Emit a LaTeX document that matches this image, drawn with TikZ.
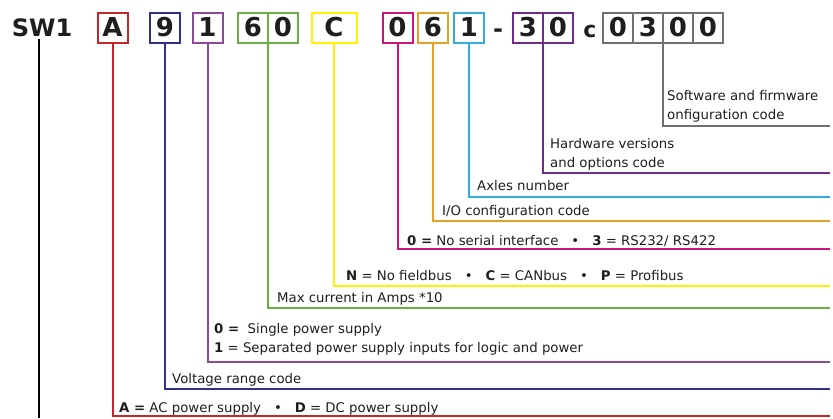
\documentclass[tikz,border=0pt]{standalone}
\usepackage{fontspec}
\setmainfont{DejaVu Sans}
\usetikzlibrary{positioning}
\definecolor{codeRed}{RGB}{193,39,45}
\definecolor{codeNavy}{RGB}{46,49,146}
\definecolor{codeViolet}{RGB}{138,75,155}
\definecolor{codeGreen}{RGB}{106,174,69}
\definecolor{codeYellow}{RGB}{255,241,0}
\definecolor{codeMagenta}{RGB}{204,20,123}
\definecolor{codeOrange}{RGB}{232,160,40}
\definecolor{codeBlue}{RGB}{52,170,226}
\definecolor{codePurple}{RGB}{112,44,140}
\definecolor{codeGray}{RGB}{112,112,112}
\definecolor{darkText}{RGB}{30,30,30}
\newcommand{\codesep}{\hspace{13pt}•\hspace{13pt}}
\tikzset{
    codecell/.style={
        rectangle,
        draw,
        line width=2pt,
        minimum width=30pt,
        minimum height=30pt,
        inner sep=0pt,
        outer sep=0pt,
        text=darkText,
        font=\fontsize{26}{26}\selectfont\bfseries
    },
    codemark/.style={inner sep=0pt, text=darkText, font=\fontsize{24}{24}\selectfont\bfseries},
    codeline/.style={line width=2pt},
    desc/.style={anchor=base west, inner sep=0pt, text=darkText, font=\fontsize{13.3}{19}\selectfont},
    desctwo/.style={desc, anchor=north west, align=left}
}
\begin{document}
\begin{tikzpicture}[x=1pt, y=-1pt]
    \useasboundingbox (0,0) rectangle (833,418);
    % code characters
    \node[codemark, inner sep=2pt] (sw) at (42,27.5) {SW1};
    \node[codecell, draw=codeRed] (bA) at (112.5,27.5) {A};
    \node[codecell, draw=codeNavy] (b9) at (165,27.5) {9};
    \node[codecell, draw=codeViolet] (b1) at (207.5,27.5) {1};
    \node[codecell, draw=codeGreen] (g6) at (253,27.5) {6};
    \node[codecell, draw=codeGreen, right=0pt of g6] (g0) {0};
    \node[codecell, draw=codeYellow, minimum width=45pt] (bC) at (334,27.5) {C};
    \node[codecell, draw=codeMagenta] (m0) at (397.5,27.5) {0};
    \node[codecell, draw=codeOrange] (o6) at (433,27.5) {6};
    \node[codecell, draw=codeBlue] (a1) at (469,27.5) {1};
    \node[codemark, anchor=base] (dash) at (498,37) {-};
    \node[codecell, draw=codePurple] (h3) at (528,27.5) {3};
    \node[codecell, draw=codePurple, right=0pt of h3] (h0) {0};
    \node[codemark, anchor=base, font=\fontsize{22}{22}\selectfont\bfseries] (cc) at (590,37) {c};
    \node[codecell, draw=codeGray] (s0) at (618,27.5) {0};
    \node[codecell, draw=codeGray, right=0pt of s0] (s3) {3};
    \node[codecell, draw=codeGray, right=0pt of s3] (s00) {0};
    \node[codecell, draw=codeGray, right=0pt of s00] (s000) {0};

    % line ends
    \coordinate (eSW) at (39,418);
    \coordinate (eS) at (830,126);
    \coordinate (eH) at (830,173);
    \coordinate (eA) at (830,197);
    \coordinate (eO) at (830,221);
    \coordinate (eM) at (830,249);
    \coordinate (eC) at (830,286);
    \coordinate (eG) at (830,308);
    \coordinate (eP) at (830,362);
    \coordinate (eV) at (830,389);
    \coordinate (eR) at (830,416);

    \draw[codeline, line width=2.2pt, black] (sw.south -| eSW) -- (eSW);
    \draw[codeline, codeGray] (s3.south east) |- (eS);
    \draw[codeline, codePurple] (h3.south east) |- (eH);
    \draw[codeline, codeBlue] (a1.south) |- (eA);
    \draw[codeline, codeOrange] (o6.south) |- (eO);
    \draw[codeline, codeMagenta] (m0.south) |- (eM);
    \draw[codeline, codeYellow] (bC.south) |- (eC);
    \draw[codeline, codeGreen] (g6.south east) |- (eG);
    \draw[codeline, codeViolet] (b1.south) |- (eP);
    \draw[codeline, codeNavy] (b9.south) |- (eV);
    \draw[codeline, codeRed] (bA.south) |- (eR);

    % descriptions
    \node[desctwo] (tS) at (667,90) {Software and firmware\\onfiguration code};
    \node[desctwo] (tH) at (550,138) {Hardware versions\\and options code};
    \node[desc] (tA) at (477,190.5) {Axles number};
    \node[desc] (tO) at (442,215) {I/O configuration code};
    \node[desc] (tM) at (407,245) {\textbf{0 =} No serial interface\codesep\textbf{3} = RS232/ RS422};
    \node[desc] (tC) at (346,280) {\textbf{N} = No fieldbus\codesep\textbf{C} = CANbus\codesep\textbf{P} = Profibus};
    \node[desc] (tG) at (277,302) {Max current in Amps *10};
    \node[desctwo] (tP) at (214,323) {\textbf{0 =} \ Single power supply\\\textbf{1} = Separated power supply inputs for logic and power};
    \node[desc] (tV) at (172,383) {Voltage range code};
    \node[desc] (tR) at (119,412) {\textbf{A =} AC power supply\codesep\textbf{D} = DC power supply};
\end{tikzpicture}
\end{document}
